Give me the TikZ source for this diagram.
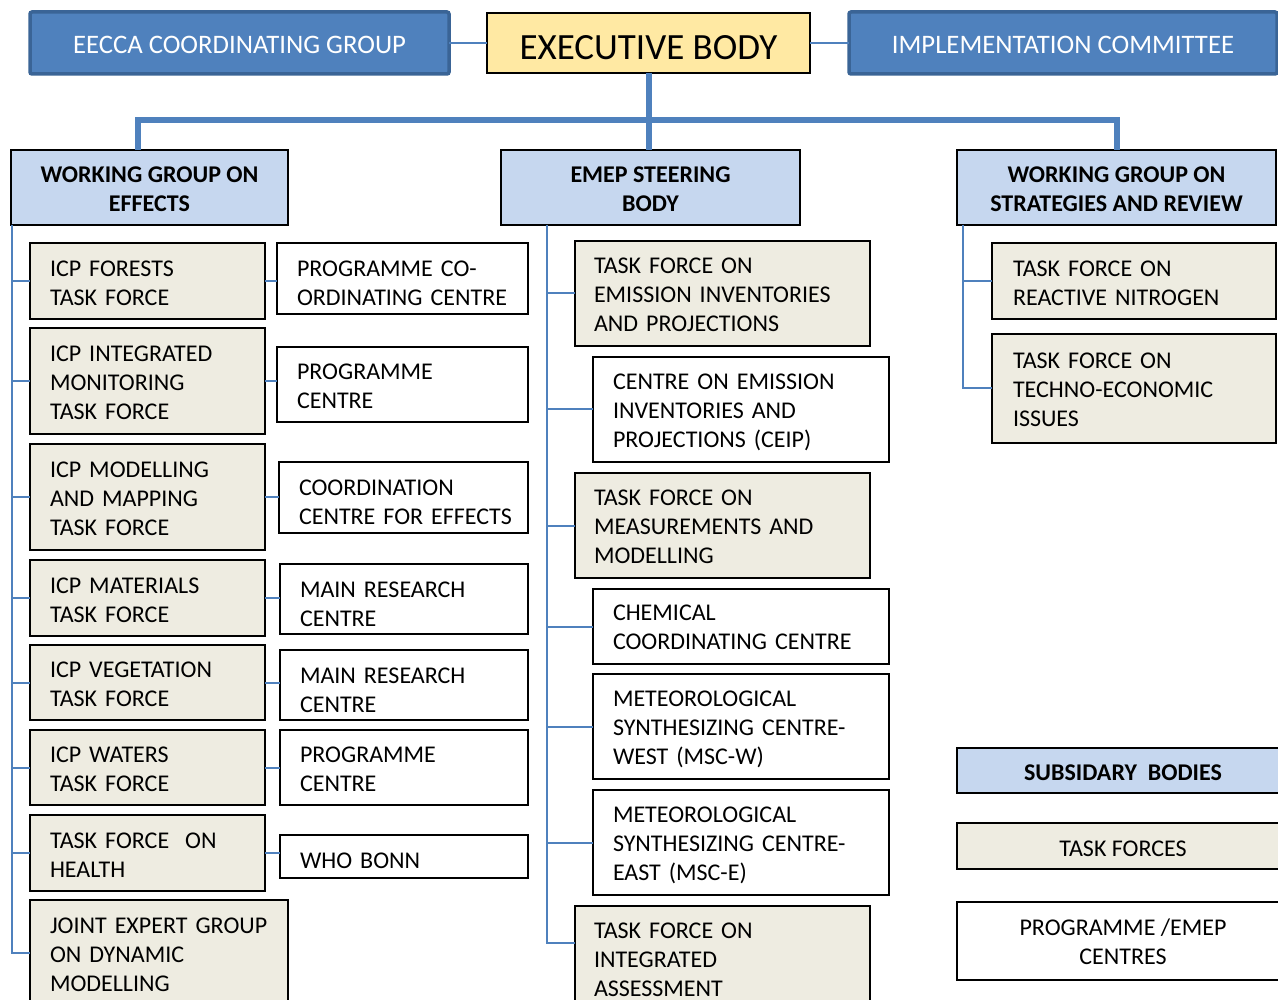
\documentclass[tikz,border=0pt]{standalone}
\usepackage{fontspec}
\setmainfont{Carlito}
\usetikzlibrary{calc}
\definecolor{lnblue}{HTML}{4F81BD}
\definecolor{dkblue}{HTML}{3A6496}
\definecolor{tanc}{HTML}{EEECE1}
\definecolor{yelc}{HTML}{FFE9A3}
\definecolor{hdbc}{HTML}{C6D7EF}
\newcommand\bodyf{\fontsize{24}{29}\selectfont}
\newcommand\hdf{\fontsize{24}{29}\selectfont\bfseries}
\newcommand\topf{\fontsize{26.7}{32}\selectfont}
\newcommand\exf{\fontsize{37}{44}\selectfont}
\newcommand\sh[2]{\raisebox{#1}[\height][\depth]{\begin{tabular}{@{}l@{}}#2\end{tabular}}}
\newcommand\shc[2]{\raisebox{#1}[\height][\depth]{\begin{tabular}{@{}c@{}}#2\end{tabular}}}
% \bx{name}{style}{x}{y}{w}{h}{left pad}{shift}{text}
\newcommand\bx[9]{%
  \pgfmathsetmacro\twd{#5-2*#7}%
  \node[#2,minimum width=#5pt,minimum height=#6pt,inner xsep=#7pt,text width=\twd pt] (#1) at (#3,#4) {\sh{#8}{#9}};}
\begin{document}
\begin{tikzpicture}[x=1pt,y=-1pt,
  boxb/.style={anchor=north west, line width=2pt, draw=black, inner ysep=0pt, align=left, font=\bodyf, outer sep=0pt},
  tfb/.style={boxb, fill=tanc},
  ceb/.style={boxb, fill=white},
  hdb/.style={anchor=north west, draw=black, line width=2pt, fill=hdbc, align=center, font=\hdf, inner sep=0pt, outer sep=0pt},
  topb/.style={anchor=north west, draw=dkblue, line width=3.5pt, fill=lnblue, rounded corners=2pt, text=white, font=\topf, inner sep=0pt, outer sep=0pt},
  exb/.style={anchor=north west, draw=black, line width=2pt, fill=yelc, font=\exf, inner sep=0pt, outer sep=0pt},
  conn/.style={draw=lnblue, line width=2pt},
  thin/.style={draw=lnblue, line width=1.5pt},
  busl/.style={draw=lnblue, line width=6pt}]
\clip (0,0) rectangle (1278,1000);
\fill[white] (0,0) rectangle (1278,1000);

% top row
\node[topb, minimum width=419pt, minimum height=62pt] (eecca) at (30,12) {\raisebox{-2pt}[\height][\depth]{EECCA COORDINATING GROUP}};
\node[exb, minimum width=323pt, minimum height=60pt] (exec) at (487,13) {\raisebox{-5pt}[\height][\depth]{EXECUTIVE BODY}};
\node[topb, minimum width=428pt, minimum height=62pt] (impl) at (849,12) {\raisebox{-2pt}[\height][\depth]{IMPLEMENTATION COMMITTEE}};

% headers
\node[hdb, minimum width=277pt, minimum height=75pt] (wge) at (11,150) {\shc{-4pt}{WORKING GROUP ON\\EFFECTS}};
\node[hdb, minimum width=299pt, minimum height=75pt] (emep) at (501,150) {\shc{-4pt}{EMEP STEERING\\BODY}};
\node[hdb, minimum width=319pt, minimum height=75pt] (wgsr) at (957,150) {\shc{-4pt}{WORKING GROUP ON\\STRATEGIES AND REVIEW}};

% left column task forces
\bx{tf1}{tfb}{30}{243}{235}{76}{20}{-4pt}{ICP FORESTS\\TASK FORCE}
\bx{tf2}{tfb}{30}{328}{235}{106}{20}{-4pt}{ICP INTEGRATED\\MONITORING\\TASK FORCE}
\bx{tf3}{tfb}{30}{444}{235}{106}{20}{-4pt}{ICP MODELLING\\AND MAPPING\\TASK FORCE}
\bx{tf4}{tfb}{30}{560}{235}{76}{20}{-4pt}{ICP MATERIALS\\TASK FORCE}
\bx{tf5}{tfb}{30}{645}{235}{75}{20}{-4pt}{ICP VEGETATION\\TASK FORCE}
\bx{tf6}{tfb}{30}{730}{235}{75}{20}{-4pt}{ICP WATERS\\TASK FORCE}
\bx{tf7}{tfb}{30}{815}{235}{76}{20}{-4pt}{TASK FORCE\ \ ON\\HEALTH}
\bx{tf8}{tfb}{30}{900}{258}{110}{20}{-2pt}{JOINT EXPERT GROUP\\ON DYNAMIC\\MODELLING}

% left column centres
\bx{pc1}{ceb}{277}{243}{251}{71}{20}{-7pt}{PROGRAMME CO-\\ORDINATING CENTRE}
\bx{pc2}{ceb}{277}{347}{251}{75}{20}{-4pt}{PROGRAMME\\CENTRE}
\bx{pc3}{ceb}{279}{462}{249}{71}{20}{-7pt}{COORDINATION\\CENTRE FOR EFFECTS}
\bx{pc4}{ceb}{280}{564}{248}{70}{20}{-7pt}{MAIN RESEARCH\\CENTRE}
\bx{pc5}{ceb}{280}{650}{248}{70}{20}{-7pt}{MAIN RESEARCH\\CENTRE}
\bx{pc6}{ceb}{280}{730}{248}{75}{20}{-4pt}{PROGRAMME\\CENTRE}
\bx{pc7}{ceb}{280}{835}{248}{43}{20}{-6pt}{WHO BONN}

% EMEP column
\bx{em1}{tfb}{575}{241}{295}{105}{19}{-3pt}{TASK FORCE ON\\EMISSION INVENTORIES\\AND PROJECTIONS}
\bx{em2}{ceb}{593}{357}{296}{105}{20}{-3pt}{CENTRE ON EMISSION\\INVENTORIES AND\\PROJECTIONS (CEIP)}
\bx{em3}{tfb}{575}{473}{295}{105}{19}{-3pt}{TASK FORCE ON\\MEASUREMENTS AND\\MODELLING}
\bx{em4}{ceb}{593}{589}{296}{75}{20}{-3pt}{CHEMICAL\\COORDINATING CENTRE}
\bx{em5}{ceb}{593}{674}{296}{105}{20}{-3pt}{METEOROLOGICAL\\SYNTHESIZING CENTRE-\\WEST (MSC-W)}
\bx{em6}{ceb}{593}{790}{296}{105}{20}{-3pt}{METEOROLOGICAL\\SYNTHESIZING CENTRE-\\EAST (MSC-E)}
\bx{em7}{tfb}{575}{906}{295}{110}{19}{-1pt}{TASK FORCE ON\\INTEGRATED\\ASSESSMENT}

% WGSR column
\bx{sr1}{tfb}{992}{243}{284}{76}{21}{-4pt}{TASK FORCE ON\\REACTIVE NITROGEN}
\bx{sr2}{tfb}{992}{334}{284}{109}{21}{-3pt}{TASK FORCE ON\\TECHNO-ECONOMIC\\ISSUES}

% legend
\node[hdb, minimum width=332pt, minimum height=45pt] (lg1) at (957,748) {\shc{-4pt}{SUBSIDARY\ \ BODIES}};
\node[tfb, align=center, inner xsep=0pt, minimum width=332pt, minimum height=46pt] (lg2) at (957,823) {\shc{-5pt}{TASK FORCES}};
\node[ceb, align=center, inner xsep=0pt, minimum width=332pt, minimum height=78pt] (lg3) at (957,902) {\shc{-3pt}{PROGRAMME /EMEP\\CENTRES}};

% top connectors
\draw[thin] (eecca.east) -- (exec.west);
\draw[thin] (exec.east) -- (impl.west);
\draw[busl] (exec.south) -- (exec.south |- emep.north);
\coordinate (bus) at ($(exec.south)+(0,47)$);
\draw[busl] ($(wge.north west)+(127,0)$) |- (bus) -| (wgsr.north);

% working group on effects
\coordinate (se) at ($(wge.south west)+(1,0)$);
\foreach \n in {tf1,tf2,tf3,tf4,tf5,tf6,tf7}{\draw[conn] (se) |- (\n.west);}
\draw[conn] (se) |- ($(tf8.north west)+(0,53)$);
\foreach \a/\b in {tf1/pc1,tf2/pc2,tf3/pc3,tf4/pc4,tf5/pc5,tf6/pc6,tf7/pc7}{\draw[conn] (\a.east) -- (\a.east -| \b.west);}

% EMEP
\coordinate (sm) at ($(emep.south west)+(46,0)$);
\foreach \n in {em1,em2,em3,em4,em5,em6}{\draw[conn] (sm) |- (\n.west);}
\draw[conn] (sm) |- ($(em7.north west)+(0,37)$);

% WGSR
\coordinate (sr) at ($(wgsr.south west)+(6,0)$);
\foreach \n in {sr1,sr2}{\draw[conn] (sr) |- (\n.west);}
\end{tikzpicture}
\end{document}
